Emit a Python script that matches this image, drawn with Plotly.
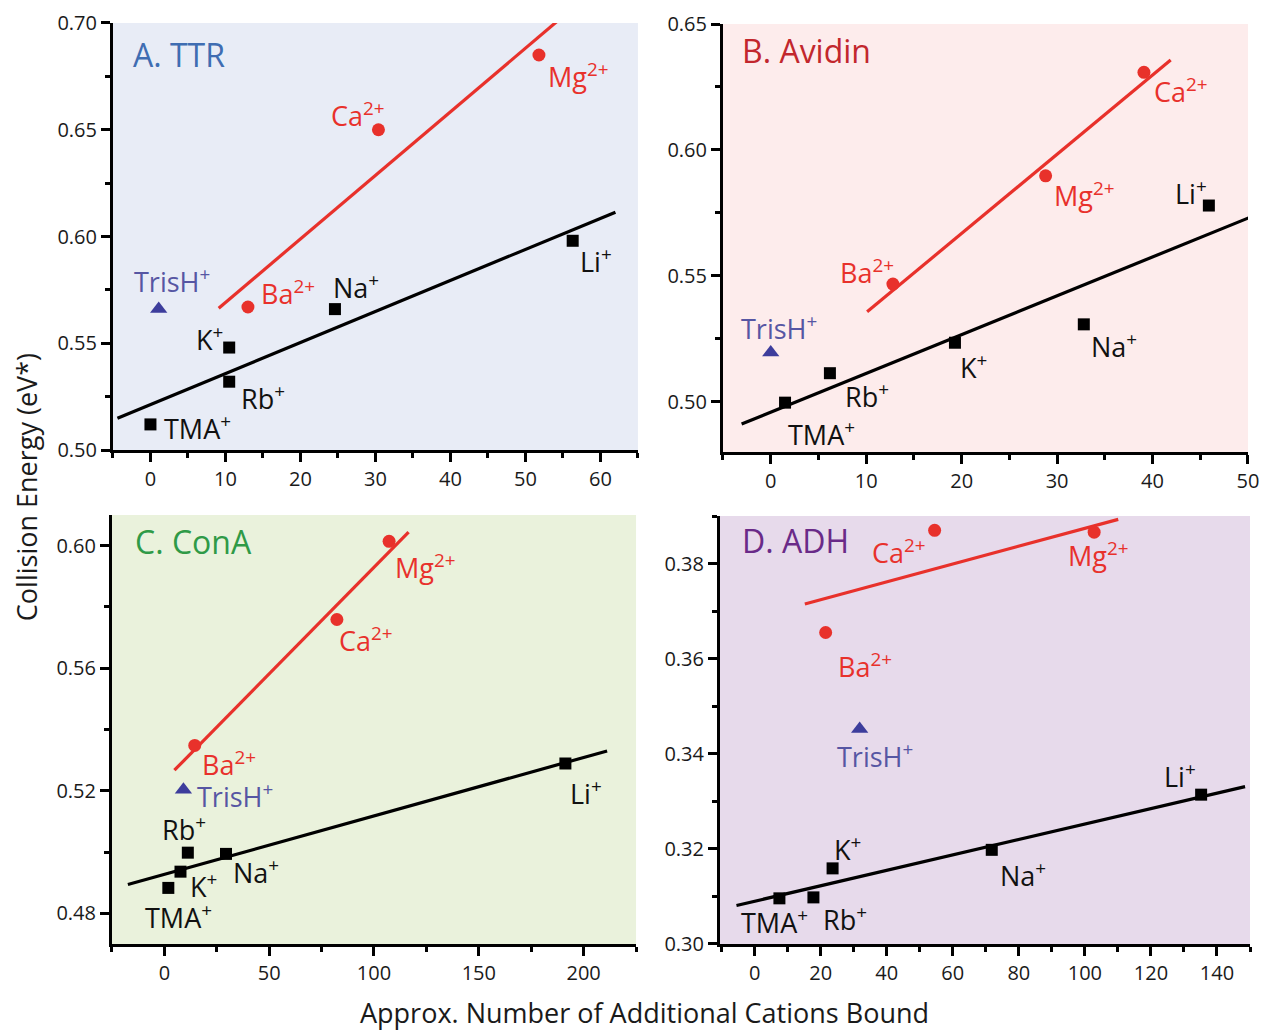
import plotly.graph_objects as go

# ---------------- data ----------------
mono_ions = ["TMA", "K", "Rb", "Na", "Li"]
di_ions = ["Ba", "Ca", "Mg"]

# Panel A. TTR
ttr_mono_x = [0.0, 10.5, 10.5, 24.6, 56.3]
ttr_mono_y = [0.512, 0.548, 0.532, 0.566, 0.598]
ttr_di_x = [13.0, 30.4, 51.8]
ttr_di_y = [0.567, 0.650, 0.685]
ttr_tris_x = [1.1]
ttr_tris_y = [0.566]
ttr_mono_fit_x = [-4.4, 62.0]
ttr_mono_fit_y = [0.5149, 0.6114]
ttr_di_fit_x = [9.1, 54.3]
ttr_di_fit_y = [0.5664, 0.7010]

# Panel B. Avidin
avi_mono_x = [1.5, 19.3, 6.2, 32.8, 45.9]
avi_mono_y = [0.4996, 0.5234, 0.5113, 0.5307, 0.5779]
avi_di_x = [12.8, 39.1, 28.8]
avi_di_y = [0.5467, 0.6308, 0.5897]
avi_tris_x = [0.0]
avi_tris_y = [0.5195]
avi_mono_fit_x = [-3.05, 50.2]
avi_mono_fit_y = [0.4911, 0.5732]
avi_di_fit_x = [10.1, 41.9]
avi_di_fit_y = [0.5357, 0.6357]

# Panel C. ConA
cona_mono_x = [1.9, 7.7, 11.2, 29.4, 191.3]
cona_mono_y = [0.4883, 0.4936, 0.4998, 0.4994, 0.5289]
cona_di_x = [14.5, 82.3, 107.2]
cona_di_y = [0.5348, 0.5759, 0.6014]
cona_tris_x = [9.1]
cona_tris_y = [0.5203]
cona_mono_fit_x = [-17.4, 211.2]
cona_mono_fit_y = [0.4894, 0.5330]
cona_di_fit_x = [4.8, 116.5]
cona_di_fit_y = [0.5267, 0.6044]

# Panel D. ADH
adh_mono_x = [7.5, 23.6, 17.8, 71.8, 135.2]
adh_mono_y = [0.3096, 0.3159, 0.3098, 0.3198, 0.3314]
adh_di_x = [21.5, 54.5, 102.8]
adh_di_y = [0.3655, 0.3870, 0.3866]
adh_tris_x = [31.8]
adh_tris_y = [0.3452]
adh_mono_fit_x = [-5.5, 148.5]
adh_mono_fit_y = [0.3081, 0.3331]
adh_di_fit_x = [15.2, 110.1]
adh_di_fit_y = [0.3715, 0.3893]

panel_titles = ["A. TTR", "B. Avidin", "C. ConA", "D. ADH"]
x_title = "Approx. Number of Additional Cations Bound"
y_title = "Collision Energy (eV*)"

# ---------------- styling ----------------
FONT = "Open Sans"
RED = "#e8312b"
BLUE_MK = "#3d3d9c"
BLUE_TX = "#5656a3"
title_colors = ["#3f6db2", "#c2272d", "#2f9a47", "#6a2a88"]
bg_colors = ["#e8ecf6", "#fdecec", "#eaf2dc", "#e7daeb"]

domains = [
    ([0.0895, 0.5055], [0.5635, 0.9777]),
    ([0.5729, 0.9889], [0.5616, 0.9767]),
    ([0.0887, 0.5040], [0.0844, 0.5005]),
    ([0.5705, 0.9905], [0.0844, 0.4995]),
]
x_ranges = [[-5, 65], [-5, 50], [-25, 225], [-10.5, 150]]
x_dticks = [10, 10, 50, 20]
y_ranges = [[0.50, 0.70], [0.48, 0.65], [0.47, 0.61], [0.30, 0.39]]
y_tick0 = [0.50, 0.50, 0.48, 0.30]
y_dticks = [0.05, 0.05, 0.04, 0.02]
title_pos = [(0.035, 0.927), (0.033, 0.937), (0.040, 0.938), (0.038, 0.942)]

# label offsets in pixels (dx right, dy down) relative to each point
mono_off = [
    [(47, 3), (-20, -9), (34, 16), (21, -23), (23, 20)],
    [(36, 31), (19, 24), (37, 22), (30, 21), (-18, -13)],
    [(10, 29), (23, 14), (-4, -24), (30, 18), (21, 29)],
    [(-5, 23), (15, -20), (32, 21), (31, 25), (-21, -19)],
]
di_off = [
    [(40, -14), (-20, -15), (40, 20)],
    [(-26, -13), (37, 18), (39, 19)],
    [(34, 18), (29, 20), (36, 25)],
    [(39, 33), (-36, 21), (4, 22)],
]
tris_off = [(13, -29), (8, -25), (52, 6), (15, 26)]

panels = [
    (ttr_mono_x, ttr_mono_y, ttr_di_x, ttr_di_y, ttr_tris_x, ttr_tris_y,
     ttr_mono_fit_x, ttr_mono_fit_y, ttr_di_fit_x, ttr_di_fit_y),
    (avi_mono_x, avi_mono_y, avi_di_x, avi_di_y, avi_tris_x, avi_tris_y,
     avi_mono_fit_x, avi_mono_fit_y, avi_di_fit_x, avi_di_fit_y),
    (cona_mono_x, cona_mono_y, cona_di_x, cona_di_y, cona_tris_x, cona_tris_y,
     cona_mono_fit_x, cona_mono_fit_y, cona_di_fit_x, cona_di_fit_y),
    (adh_mono_x, adh_mono_y, adh_di_x, adh_di_y, adh_tris_x, adh_tris_y,
     adh_mono_fit_x, adh_mono_fit_y, adh_di_fit_x, adh_di_fit_y),
]

fig = go.Figure()
layout = dict(
    width=1262, height=1031,
    margin=dict(l=0, r=0, t=0, b=0, autoexpand=False),
    paper_bgcolor="white", plot_bgcolor="white",
    showlegend=False,
    font=dict(family=FONT, color="black"),
)
shapes = []
annotations = []
LBL = 27

for i, (mx, my, dx_, dy_, tx, ty, mfx, mfy, dfx, dfy) in enumerate(panels):
    n = "" if i == 0 else str(i + 1)
    xr, yr = "x" + n, "y" + n
    xd, yd = domains[i]
    layout["xaxis" + n] = dict(
        domain=xd, anchor=yr, range=x_ranges[i], dtick=x_dticks[i], tick0=0,
        automargin=False,
        showgrid=False, zeroline=False, showline=True, linecolor="black", linewidth=3,
        ticks="outside", ticklen=9, tickwidth=3, tickcolor="black",
        tickfont=dict(size=20, family=FONT, color="#1a1a1a"),
        minor=dict(dtick=x_dticks[i] / 2, tick0=0, ticks="outside", ticklen=5,
                   tickwidth=3, tickcolor="black", showgrid=False),
        fixedrange=True,
    )
    layout["yaxis" + n] = dict(
        domain=yd, anchor=xr, range=y_ranges[i], dtick=y_dticks[i], tick0=y_tick0[i],
        tickformat=".2f", automargin=False,
        showgrid=False, zeroline=False, showline=True, linecolor="black", linewidth=3,
        ticks="outside", ticklen=9, tickwidth=3, tickcolor="black",
        tickfont=dict(size=20, family=FONT, color="#1a1a1a"),
        minor=dict(dtick=y_dticks[i] / 2, tick0=y_tick0[i], ticks="outside", ticklen=5,
                   tickwidth=3, tickcolor="black", showgrid=False),
        fixedrange=True,
    )
    shapes.append(dict(type="rect", xref=xr + " domain", yref=yr + " domain",
                       x0=0, x1=1, y0=0, y1=1, fillcolor=bg_colors[i],
                       line=dict(width=0), layer="below"))
    # fit lines
    fig.add_trace(go.Scatter(x=mfx, y=mfy, mode="lines", xaxis=xr, yaxis=yr,
                             line=dict(color="black", width=3.2)))
    fig.add_trace(go.Scatter(x=dfx, y=dfy, mode="lines", xaxis=xr, yaxis=yr,
                             line=dict(color=RED, width=3.2)))
    # markers
    fig.add_trace(go.Scatter(x=mx, y=my, mode="markers", xaxis=xr, yaxis=yr,
                             marker=dict(symbol="square", size=12, color="black")))
    fig.add_trace(go.Scatter(x=dx_, y=dy_, mode="markers", xaxis=xr, yaxis=yr,
                             marker=dict(symbol="circle", size=13, color=RED)))
    fig.add_trace(go.Scatter(x=tx, y=ty, mode="markers", xaxis=xr, yaxis=yr,
                             marker=dict(symbol="triangle-up", size=15, color=BLUE_MK)))
    # labels
    for j, ion in enumerate(mono_ions):
        ox, oy = mono_off[i][j]
        annotations.append(dict(x=mx[j], y=my[j], xref=xr, yref=yr,
                                text=ion + "<sup>+</sup>", showarrow=False,
                                xshift=ox, yshift=-oy, xanchor="center", yanchor="middle",
                                font=dict(size=LBL, family=FONT, color="#111")))
    for j, ion in enumerate(di_ions):
        ox, oy = di_off[i][j]
        annotations.append(dict(x=dx_[j], y=dy_[j], xref=xr, yref=yr,
                                text=ion + "<sup>2+</sup>", showarrow=False,
                                xshift=ox, yshift=-oy, xanchor="center", yanchor="middle",
                                font=dict(size=LBL, family=FONT, color=RED)))
    ox, oy = tris_off[i]
    annotations.append(dict(x=tx[0], y=ty[0], xref=xr, yref=yr,
                            text="TrisH<sup>+</sup>", showarrow=False,
                            xshift=ox, yshift=-oy, xanchor="center", yanchor="middle",
                            font=dict(size=LBL, family=FONT, color=BLUE_TX)))
    # panel title
    px, py = title_pos[i]
    annotations.append(dict(x=px, y=py, xref=xr + " domain", yref=yr + " domain",
                            text=panel_titles[i], showarrow=False,
                            xanchor="left", yanchor="middle",
                            font=dict(size=32, family=FONT, color=title_colors[i])))

annotations.append(dict(x=0.511, y=0.018, xref="paper", yref="paper", text=x_title,
                        showarrow=False, xanchor="center", yanchor="middle",
                        font=dict(size=27, family=FONT, color="#1a1a1a")))
annotations.append(dict(x=0.021, y=0.527, xref="paper", yref="paper", text=y_title,
                        textangle=-90, showarrow=False, xanchor="center", yanchor="middle",
                        font=dict(size=27, family=FONT, color="#1a1a1a")))

layout["shapes"] = shapes
layout["annotations"] = annotations
fig.update_layout(**layout)
fig.write_html(
    "out.html",
    config={"displayModeBar": False},
    post_script="document.body.style.margin='0';document.body.style.overflow='hidden';",
)
